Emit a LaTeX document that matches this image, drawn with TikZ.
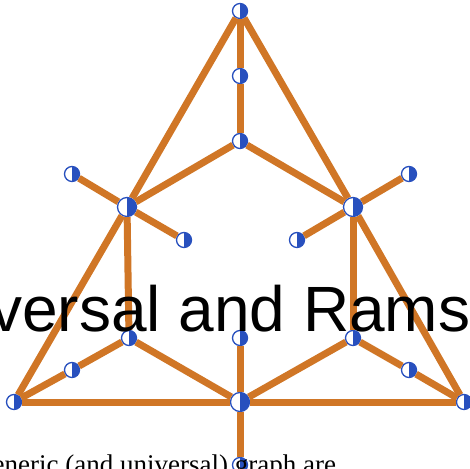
\documentclass[tikz,border=0pt]{standalone}
\usepackage{fontspec}
\setmainfont{Liberation Serif}
\newfontfamily\headfont{Liberation Sans}
\usepackage{tikz}
\usetikzlibrary{calc}
\definecolor{edgeorange}{RGB}{208,118,38}
\definecolor{vtxblue}{RGB}{40,80,190}

\begin{document}
\begin{tikzpicture}[x=1pt,y=-1pt,
  edge/.style={line width=7pt,edgeorange},
  vtx/.style={circle,draw=vtxblue,line width=1.3pt,fill=white,minimum size=15pt,inner sep=0pt,
    path picture={\fill[vtxblue] (path picture bounding box.north) rectangle (path picture bounding box.south east);}},
  hub/.style={vtx,minimum size=19pt}]
\useasboundingbox (0,0) rectangle (470,468);
\foreach \nm/\x/\y in {apex/240/11,upper/240/76,center/240/141,lleafA/72/174,lleafB/184/240,rleafA/409/174,rleafB/297/240,lcorner/14/402,rcorner/464/402,llow/129/338,rlow/353/338,lbend/72/370,rbend/409/370,stem/240/338,tail/240/465}
  \node[vtx] (\nm) at (\x,\y) {};
\foreach \nm/\x/\y in {lmid/127/207,rmid/353/207,base/240/402}
  \node[hub] (\nm) at (\x,\y) {};
\foreach \a/\b in {apex/upper,upper/center,center/lmid,center/rmid,apex/lmid,apex/rmid,lmid/lcorner,rmid/rcorner,lmid/lleafA,lmid/lleafB,rmid/rleafA,rmid/rleafB,lmid/llow,rmid/rlow,lcorner/lbend,lbend/llow,rcorner/rbend,rbend/rlow,llow/base,rlow/base,lcorner/base,base/rcorner,base/stem,base/tail}
  \draw[edge] (\a) -- (\b);
\node[anchor=base west,inner sep=0pt,font=\headfont\fontsize{64}{70}\selectfont] (title) at (-10,331) {versal and Rams};
\node[anchor=base west,inner sep=0pt,font=\fontsize{27}{30}\selectfont] (caption) at (-21,473) {generic (and universal) graph are};
\end{tikzpicture}
\end{document}
